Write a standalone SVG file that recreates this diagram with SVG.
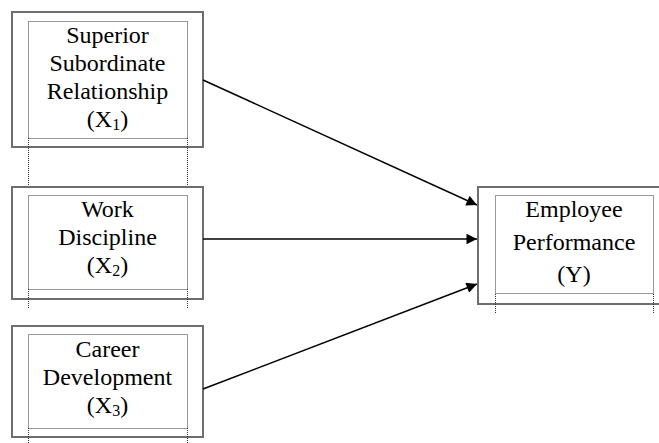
<svg xmlns="http://www.w3.org/2000/svg" width="659" height="443" viewBox="0 0 659 443">
<style>
.outer{fill:#fff;stroke:#6e6e6e;stroke-width:2}
.inner{fill:none;stroke:#333;stroke-width:1;stroke-dasharray:1 1}
.ext{stroke:#333;stroke-width:1;stroke-dasharray:1 1;fill:none}
.t{font-family:"Liberation Serif","Times New Roman",serif;font-size:24px;fill:#000;text-anchor:middle}
.sub{font-size:16px}
.conn{stroke:#000;stroke-width:1.5;fill:none;marker-end:url(#ah)}
</style>
<defs>
<marker id="ah" viewBox="0 0 10 10" refX="10" refY="5" markerWidth="8" markerHeight="7" markerUnits="strokeWidth" orient="auto">
<path d="M0,0 L10,5 L0,10 z" fill="#000"/>
</marker>
</defs>
<rect width="659" height="443" fill="#fff"/>
<g id="x1">
<rect class="outer" x="12" y="12" width="191" height="135"/>
<rect class="inner" x="28.5" y="21.5" width="159" height="117"/>
<path class="ext" d="M28.5,138 V187 M187.5,138 V187"/>
<text class="t" x="107.5" y="43">Superior</text>
<text class="t" x="107.5" y="71">Subordinate</text>
<text class="t" x="107.5" y="99">Relationship</text>
<text class="t" x="107.5" y="127">(X<tspan class="sub" dy="3">1</tspan><tspan dy="-3">)</tspan></text>
</g>
<g id="x2">
<rect class="outer" x="12" y="187" width="191" height="112"/>
<rect class="inner" x="28.5" y="195.5" width="159" height="94"/>
<path class="ext" d="M28.5,289 V309 M187.5,289 V309"/>
<text class="t" x="107.5" y="217">Work</text>
<text class="t" x="107.5" y="245">Discipline</text>
<text class="t" x="107.5" y="273">(X<tspan class="sub" dy="3">2</tspan><tspan dy="-3">)</tspan></text>
</g>
<g id="x3">
<rect class="outer" x="12" y="326" width="191" height="111"/>
<rect class="inner" x="28.5" y="334.5" width="159" height="94"/>
<path class="ext" d="M28.5,428 V443 M187.5,428 V443"/>
<text class="t" x="107.5" y="357">Career</text>
<text class="t" x="107.5" y="385">Development</text>
<text class="t" x="107.5" y="413">(X<tspan class="sub" dy="3">3</tspan><tspan dy="-3">)</tspan></text>
</g>
<g id="y">
<rect class="outer" x="478" y="187" width="190" height="117"/>
<rect class="inner" x="495.5" y="195.5" width="158" height="98"/>
<path class="ext" d="M495.5,294 V313 M653.5,294 V313"/>
<text class="t" x="574" y="217">Employee</text>
<text class="t" x="574" y="250">Performance</text>
<text class="t" x="574" y="282">(Y)</text>
</g>
<g id="connectors">
<line class="conn" x1="203" y1="80" x2="477" y2="205"/>
<line class="conn" x1="203" y1="239" x2="477" y2="239"/>
<line class="conn" x1="203" y1="389" x2="477" y2="284"/>
</g>
</svg>
